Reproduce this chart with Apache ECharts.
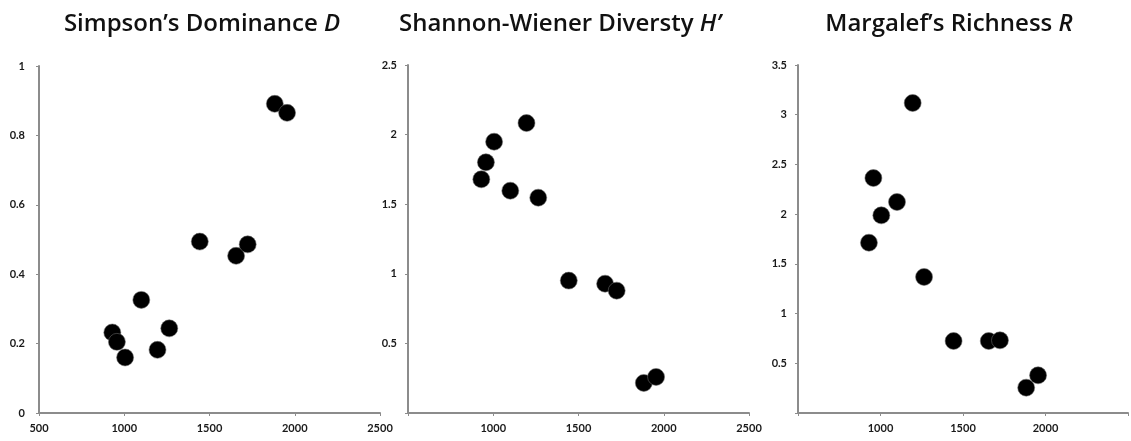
<!DOCTYPE html>
<html>
<head>
<meta charset="utf-8">
<script src="https://cdn.jsdelivr.net/npm/echarts@6/dist/echarts.min.js"></script>
<style>
  html, body { margin: 0; padding: 0; background: #fff; }
  #chart { width: 1131px; height: 441px; }
</style>
</head>
<body>
<div id="chart"></div>
<script>
// Site altitude (m) shared by all three panels
const altitude = [930, 957, 1005, 1100, 1195, 1264, 1443, 1656, 1724, 1883, 1955];

// Diversity indices per site
const simpsonD  = [0.232, 0.205, 0.160, 0.326, 0.182, 0.244, 0.494, 0.453, 0.486, 0.891, 0.865];
const shannonH  = [1.679, 1.801, 1.949, 1.597, 2.083, 1.547, 0.951, 0.929, 0.879, 0.216, 0.259];
const margalefR = [1.713, 2.363, 1.988, 2.122, 3.118, 1.368, 0.724, 0.724, 0.731, 0.255, 0.379];

// Panel titles: plain part + italic symbol
const titles = [
  ['Simpson\u2019s Dominance ', 'D'],
  ['Shannon-Wiener Diversty ', 'H\u2019'],
  ['Margalef\u2019s Richness ', 'R']
];

// Tick labels printed on each panel
const xTickLabels = [
  [500, 1000, 1500, 2000, 2500],
  [1000, 1500, 2000, 2500],
  [1000, 1500, 2000]
];
const yTickLabels = [
  [0, 0.2, 0.4, 0.6, 0.8, 1],
  [0.5, 1, 1.5, 2, 2.5],
  [0.5, 1, 1.5, 2, 2.5, 3, 3.5]
];
const yMax = [1, 2.5, 3.5];
const yStep = [0.2, 0.5, 0.5];
const seriesValues = [simpsonD, shannonH, margalefR];

const grids = [
  { left: 39,  top: 66, width: 341, height: 347 },
  { left: 408, top: 65, width: 341, height: 348 },
  { left: 798, top: 65, width: 341, height: 348 }
];
const titleCenters = [202, 560, 949];
const yLabelMargins = [14, 11, 11];

const axisGray = '#8c8c8c';
const labelFont = { fontFamily: 'Lato', fontWeight: 'bold', fontSize: 11, color: '#1a1a1a' };
const titleFont = { fontFamily: 'Open Sans', fontSize: 24, fontWeight: 600, color: '#111' };

const chart = echarts.init(document.getElementById('chart'), null, { renderer: 'canvas' });

const xAxes = [], yAxes = [], series = [], graphics = [];
for (let i = 0; i < 3; i++) {
  xAxes.push({
    type: 'value', gridIndex: i, min: 500, max: 2500, interval: 500,
    splitLine: { show: false },
    axisLine: { show: true, onZero: false, lineStyle: { color: axisGray, width: 2 } },
    axisTick: { show: true, length: 3, lineStyle: { color: axisGray, width: 1 } },
    axisLabel: Object.assign({
      margin: 10, showMinLabel: true, showMaxLabel: true,
      formatter: (v) => xTickLabels[i].includes(v) ? String(v) : ''
    }, labelFont)
  });
  yAxes.push({
    type: 'value', gridIndex: i, min: 0, max: yMax[i], interval: yStep[i],
    splitLine: { show: false },
    axisLine: { show: true, lineStyle: { color: axisGray, width: 2 } },
    axisTick: { show: true, length: 3, lineStyle: { color: axisGray, width: 1 } },
    axisLabel: Object.assign({
      margin: yLabelMargins[i],
      formatter: (v) => yTickLabels[i].some(t => Math.abs(t - v) < 1e-9) ? String(+v.toFixed(2)) : ''
    }, labelFont)
  });
  series.push({
    type: 'scatter', xAxisIndex: i, yAxisIndex: i,
    symbol: 'circle', symbolSize: 17,
    itemStyle: { color: '#000', borderColor: 'rgba(110,110,110,0.55)', borderWidth: 1, opacity: 1 },
    data: altitude.map((x, k) => [x, seriesValues[i][k]])
  });
  graphics.push({
    type: 'text', x: titleCenters[i], y: 24,
    style: {
      text: '{a|' + titles[i][0] + '}{b|' + titles[i][1] + '}',
      align: 'center', verticalAlign: 'middle',
      rich: {
        a: Object.assign({ fill: titleFont.color }, titleFont),
        b: Object.assign({ fill: titleFont.color, fontStyle: 'italic' }, titleFont)
      }
    }
  });
}

chart.setOption({
  animation: false,
  backgroundColor: '#ffffff',
  grid: grids,
  xAxis: xAxes,
  yAxis: yAxes,
  series: series,
  graphic: graphics
});
</script>
</body>
</html>
